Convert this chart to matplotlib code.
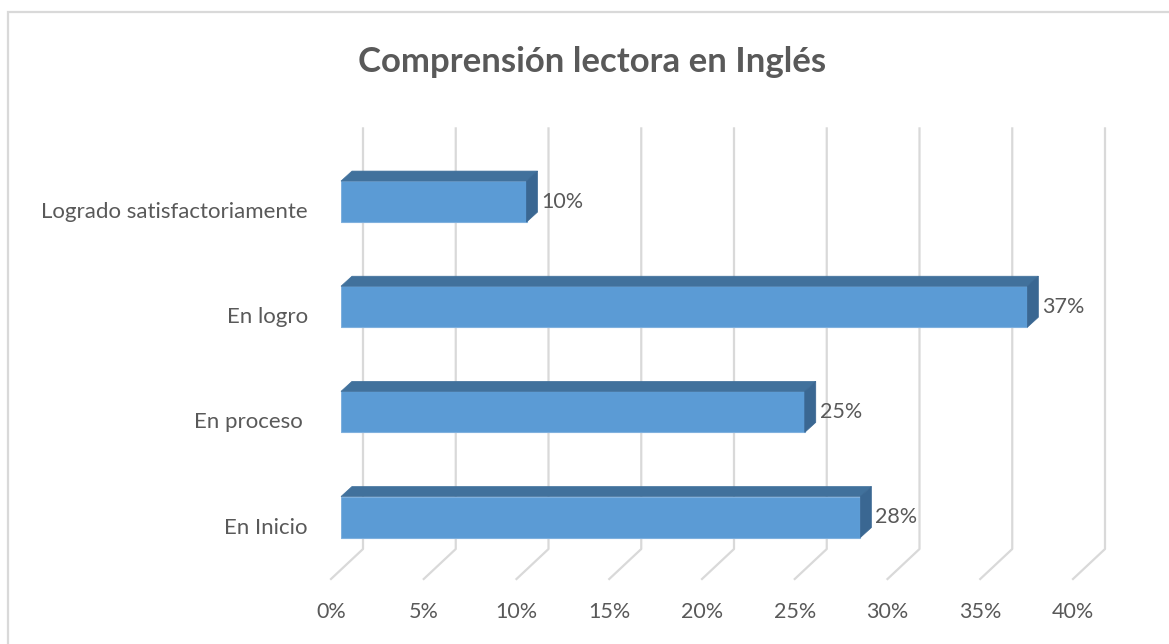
import matplotlib.pyplot as plt
from matplotlib import font_manager
from matplotlib.patches import Polygon, Rectangle

# data, bottom to top as drawn
categories = ['En Inicio', 'En proceso ', 'En logro', 'Logrado satisfactoriamente']
values = [28, 25, 37, 10]
ticks = [0, 5, 10, 15, 20, 25, 30, 35, 40]
tick_labels = [f'{t}%' for t in ticks]
title = 'Comprensión lectora en Inglés'

# Calibri-like narrow face if it is there
names = {f.name for f in font_manager.fontManager.ttflist}
font = 'Liberation Sans Narrow' if 'Liberation Sans Narrow' in names else 'Lato'
plt.rcParams['font.family'] = font

text_col = '#595959'
grid_col = '#D9D9D9'
front_col = '#5B9BD5'
top_col = '#41719C'
side_col = '#3A6792'

W, H = 1169, 644
fig = plt.figure(figsize=(W / 100, H / 100), dpi=100)
ax = fig.add_axes([341 / W, 74.4 / H, 742 / W, 420.6 / H])
ax.set_xlim(0, 40)
ax.set_ylim(-0.5, 3.5)
ax.axis('off')


def shift(x, y, dx, dy):
    # move a data point by some pixels (fake 3D depth)
    px, py = ax.transData.transform((x, y))
    return ax.transData.inverted().transform((px + dx, py + dy))


# back wall gridlines + floor lines
back = (22, 20.6)
front = (-10, -9.4)
for t, lab in zip(ticks, tick_labels):
    f0 = shift(t, -0.5, *front)
    b0 = shift(t, -0.5, *back)
    b1 = shift(t, 3.5, *back)
    ax.plot([f0[0], b0[0], b1[0]], [f0[1], b0[1], b1[1]], color=grid_col,
            lw=1.6, clip_on=False, zorder=1)
    tx, ty = shift(t, -0.5, front[0], front[1] - 33)
    ax.text(tx, ty, lab, ha='center', va='center', fontsize=15.5, color=text_col)

# bars
bar_h = 0.39
depth = (11, 10)
ypos = list(range(len(values)))
ax.barh(ypos, values, height=bar_h, color=front_col, edgecolor='#7FB0DE',
        linewidth=0.8, zorder=3)
for i, v in zip(ypos, values):
    top = i + bar_h / 2
    bot = i - bar_h / 2
    ax.add_patch(Polygon([(0, top), (v, top), shift(v, top, *depth), shift(0, top, *depth)],
                         closed=True, fc=top_col, ec=top_col, lw=0.5, zorder=3, clip_on=False))
    ax.add_patch(Polygon([(v, bot), (v, top), shift(v, top, *depth), shift(v, bot, *depth)],
                         closed=True, fc=side_col, ec=side_col, lw=0.5, zorder=3, clip_on=False))
    lx, ly = shift(v, i, 15, 0)
    ax.text(lx, ly, f'{v}%', ha='left', va='center', fontsize=15.5, color=text_col)

for i, c in zip(ypos, categories):
    cx, cy = shift(0, i, -33, -10.5)
    ax.text(cx, cy, c, ha='right', va='center', fontsize=16, color=text_col)

fig.text(592 / W, 1 - 62 / H, title, ha='center', va='center', fontsize=25,
         fontweight='bold', color=text_col)

# chart area border (only left and top show in the crop)
fig.patches.append(Rectangle((8 / W, -0.1), 1.2, 1.1 - 12 / H, transform=fig.transFigure,
                             fill=False, ec=grid_col, lw=1.6))

fig.savefig('out.png', dpi=100)
